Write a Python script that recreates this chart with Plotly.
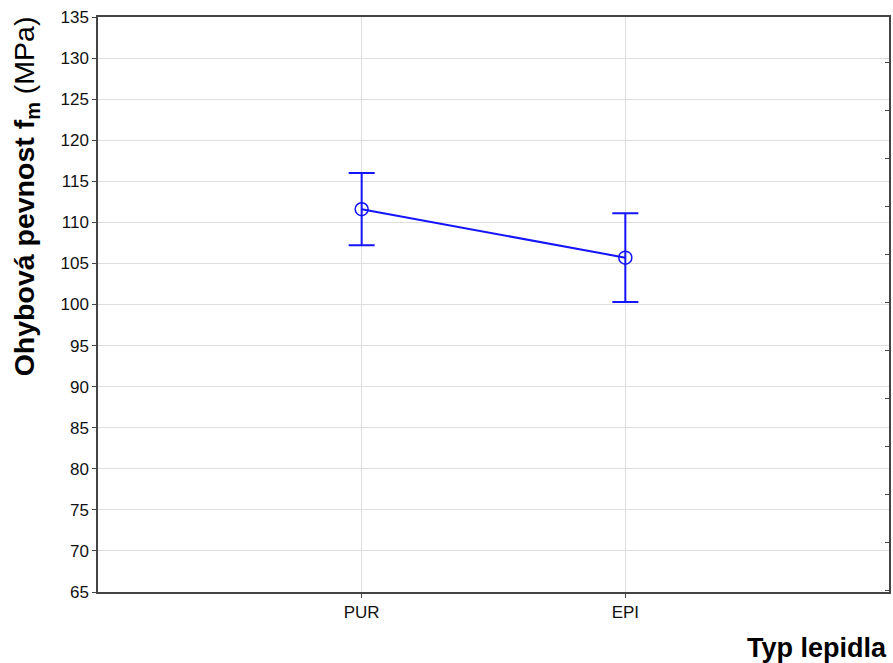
import plotly.graph_objects as go

# Mean flexural strength by adhesive type, with error-bar limits
categories = ["PUR", "EPI"]
means = [111.6, 105.7]
upper = [116.0, 111.1]
lower = [107.2, 100.3]

err_plus = [u - m for u, m in zip(upper, means)]
err_minus = [m - l for m, l in zip(means, lower)]

blue = "#1414ff"
font = "Liberation Sans, Arial, sans-serif"

fig = go.Figure()
fig.add_trace(go.Scatter(
    x=categories, y=means,
    mode="lines+markers",
    line=dict(color=blue, width=2),
    marker=dict(symbol="circle-open", size=13, color=blue, line=dict(width=1.5, color=blue)),
    error_y=dict(type="data", symmetric=False, array=err_plus, arrayminus=err_minus,
                 color=blue, thickness=2, width=13),
    showlegend=False,
))
# unlabelled right-hand scale with inward ticks
fig.add_trace(go.Scatter(x=categories, y=[None, None], yaxis="y2", showlegend=False,
                         hoverinfo="skip"))

fig.update_layout(
    width=893, height=663,
    margin=dict(l=98, r=2, t=17, b=71),
    paper_bgcolor="white", plot_bgcolor="white",
    font=dict(family=font, size=17, color="#111"),
    xaxis=dict(
        range=[-1, 2], showgrid=True, gridcolor="#dddddd", gridwidth=1,
        showline=True, linecolor="#444", linewidth=1.5, mirror=True,
        ticks="outside", ticklen=4, tickcolor="#444",
        tickfont=dict(size=17, family=font),
        zeroline=False,
    ),
    yaxis=dict(
        range=[65, 135], dtick=5, showgrid=True, gridcolor="#dddddd", gridwidth=1,
        showline=True, linecolor="#444", linewidth=1.5, mirror=True,
        ticks="outside", ticklen=4, tickcolor="#444",
        tickfont=dict(size=17, family=font),
        zeroline=False,
    ),
    yaxis2=dict(
        overlaying="y", side="right", range=[-0.03, 11.95], dtick=1,
        showgrid=False, showticklabels=False, ticks="inside", ticklen=4,
        tickcolor="#444", zeroline=False, showline=False,
    ),
)

# axis titles
fig.add_annotation(
    text="<b>Ohybová pevnost f<sub>m</sub></b> (MPa)", textangle=-90,
    xref="paper", yref="paper", x=-0.116, y=1.005,
    xanchor="left", yanchor="top", showarrow=False,
    font=dict(size=28.5, family=font, color="black"),
)
fig.add_annotation(
    text="<b>Typ lepidla</b>", xref="paper", yref="paper",
    x=1.0, y=-0.068, xanchor="right", yanchor="top", showarrow=False,
    font=dict(size=27, family=font, color="black"),
)

fig.write_html("out.html")
